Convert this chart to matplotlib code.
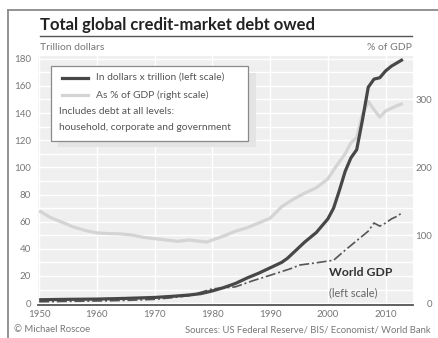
import matplotlib
matplotlib.use("Agg")
import matplotlib.pyplot as plt
from matplotlib.lines import Line2D
from matplotlib.patches import Rectangle

# debt in trillion dollars (left scale)
years_debt = [1950, 1955, 1960, 1965, 1970, 1973, 1976, 1978, 1980, 1982, 1984, 1986,
              1988, 1990, 1992, 1993, 1994, 1995, 1996, 1997, 1998, 1999, 2000, 2001,
              2002, 2003, 2004, 2005, 2006, 2007, 2008, 2009, 2010, 2011, 2012, 2013]
debt = [2.5, 2.8, 3.0, 3.5, 4.2, 5, 6, 7, 9, 11.5, 14.5, 18.5,
        22, 26, 30, 33, 37, 41, 45, 48.5, 52, 57, 62, 70,
        83, 97, 107, 113, 135, 159, 165, 166, 171, 174.5, 177, 179.5]

# world GDP in trillion dollars (left scale)
years_gdp = [1950, 1955, 1960, 1965, 1970, 1973, 1976, 1980, 1984, 1987, 1990, 1994,
             1995, 1998, 2001, 2003, 2005, 2007, 2008, 2009, 2010, 2011, 2012, 2013]
gdp = [1.0, 1.3, 1.6, 2.0, 2.8, 4.0, 5.5, 10.5, 12, 16.5, 20.5, 26,
       28, 29.7, 31.6, 39, 46, 53, 59, 56.7, 59, 62, 64, 67]

# debt as % of GDP (right scale)
years_pct = [1950, 1952, 1954, 1956, 1958, 1960, 1962, 1964, 1966, 1968, 1970, 1972,
             1974, 1976, 1978, 1979, 1980, 1982, 1984, 1986, 1988, 1990, 1992, 1994,
             1996, 1998, 2000, 2001, 2002, 2003, 2004, 2005, 2006, 2007, 2008, 2009,
             2010, 2011, 2012, 2013]
pct = [136, 126, 119, 112, 107, 103.5, 102.5, 102, 100.5, 97, 95, 93,
       91, 93, 91, 90, 93, 99, 106, 111, 118, 125, 142, 153,
       162, 170, 183, 196, 208, 220, 236, 244, 278, 297, 285, 274,
       283, 287, 291, 294]

left_ticks = [0, 20, 40, 60, 80, 100, 120, 140, 160, 180]
right_ticks = [0, 100, 200, 300]
x_ticks = [1950, 1960, 1970, 1980, 1990, 2000, 2010]

plt.rcParams["font.family"] = ["Lato", "DejaVu Sans"]

W, H = 438, 338
fig = plt.figure(figsize=(W / 100, H / 100), dpi=100)
fig.patch.set_facecolor("white")

def fx(px):
    return px / W

def fy(py):
    return 1 - py / H

ax_l, ax_r, ax_t, ax_b = 38, 412.7, 56, 304.5
ax2 = fig.add_axes([fx(ax_l), fy(ax_b), fx(ax_r - ax_l), (ax_b - ax_t) / H])
ax = ax2.twinx()
ax.set_zorder(ax2.get_zorder() + 1)
ax.patch.set_visible(False)

ax2.set_facecolor("#efefef")
ax.set_xlim(1949.8, 2014.7)
ax.set_ylim(-1, 182)
ax2.set_ylim(-2, 364)

ax.yaxis.tick_left()
ax2.yaxis.tick_right()

# grid: every 10 on left scale == 20 on right scale
for v in range(0, 364, 20):
    ax2.axhline(v, color="white", lw=1.0, zorder=0)
for yr in x_ticks:
    ax2.axvline(yr, color="white", lw=1.0, zorder=0)

ax2.plot(years_pct, pct, color="#d4d4d4", lw=2.3, solid_capstyle="butt", zorder=2)
ax.plot(years_gdp, gdp, color="#555555", lw=1.2, linestyle=(0, (6, 1.7, 1.2, 1.7)), zorder=3)
ax.plot(years_debt, debt, color="#474747", lw=2.3, solid_capstyle="butt", zorder=4)

for a in (ax, ax2):
    for s in a.spines.values():
        s.set_visible(False)
ax.spines["bottom"].set_visible(True)
ax.spines["bottom"].set_color("#555555")
ax.spines["bottom"].set_linewidth(1.3)

ax.set_yticks(left_ticks)
ax.set_yticklabels([str(t) for t in left_ticks])
ax.tick_params(axis="y", length=0, pad=5, labelsize=7, labelcolor="#777777")
ax2.set_yticks(right_ticks)
ax2.set_yticklabels([str(t) for t in right_ticks])
ax2.tick_params(axis="y", length=0, pad=14, labelsize=7, labelcolor="#777777")
for lab in ax2.get_yticklabels():
    lab.set_ha("right")
ax2.set_xticks(x_ticks)
ax2.set_xticklabels([str(t) for t in x_ticks])
ax2.tick_params(axis="x", length=0, pad=4, labelsize=7, labelcolor="#777777")
ax.tick_params(axis="x", length=0, labelbottom=False)

# frame around the whole graphic
fig.add_artist(Line2D([fx(7.5), fx(7.5)], [fy(10), fy(338)], color="#8a8a8a", lw=1.3))
fig.add_artist(Line2D([fx(7.5), fx(438)], [fy(10), fy(10)], color="#8a8a8a", lw=1.3))

# title and underline
fig.text(fx(40), fy(25), "Total global credit-market debt owed", fontsize=12,
         fontweight="bold", color="#222222", ha="left", va="center")
fig.add_artist(Line2D([fx(40), fx(412)], [fy(36), fy(36)], color="#555555", lw=1.0))

fig.text(fx(40), fy(48), "Trillion dollars", fontsize=7.5, color="#777777", va="center")
fig.text(fx(412), fy(48), "% of GDP", fontsize=7.5, color="#777777", va="center", ha="right")

# legend box with shadow
fig.add_artist(Rectangle((fx(58), fy(147)), fx(198), (147 - 73) / H,
                         facecolor="#e4e4e4", edgecolor="none", zorder=5))
fig.add_artist(Rectangle((fx(51), fy(141)), fx(197), (141 - 66) / H,
                         facecolor="white", edgecolor="#8a8a8a", lw=0.9, zorder=6))
fig.add_artist(Line2D([fx(62), fx(88)], [fy(77.5), fy(77.5)], color="#474747", lw=2.3, zorder=7))
fig.add_artist(Line2D([fx(62), fx(88)], [fy(95), fy(95)], color="#d4d4d4", lw=2.3, zorder=7))
fig.text(fx(96), fy(77.5), "In dollars x trillion (left scale)", fontsize=7.4,
         color="#555555", va="center", zorder=8)
fig.text(fx(96), fy(95), "As % of GDP (right scale)", fontsize=7.4,
         color="#555555", va="center", zorder=8)
fig.text(fx(59), fy(111), "Includes debt at all levels:", fontsize=7.4,
         color="#555555", va="center", zorder=8)
fig.text(fx(59), fy(127), "household, corporate and government", fontsize=7.4,
         color="#555555", va="center", zorder=8)

# World GDP annotation
fig.text(fx(329), fy(272), "World GDP", fontsize=8.8, fontweight="bold",
         color="#333333", va="center")
fig.text(fx(329), fy(293), "(left scale)", fontsize=7.8, color="#666666", va="center")

# footer
fig.text(fx(14), fy(330), "\u00a9 Michael Roscoe", fontsize=6.8, color="#777777", va="center")
fig.text(fx(431), fy(330), "Sources: US Federal Reserve/ BIS/ Economist/ World Bank",
         fontsize=6.8, color="#777777", va="center", ha="right")

fig.savefig("out.png", dpi=100)
